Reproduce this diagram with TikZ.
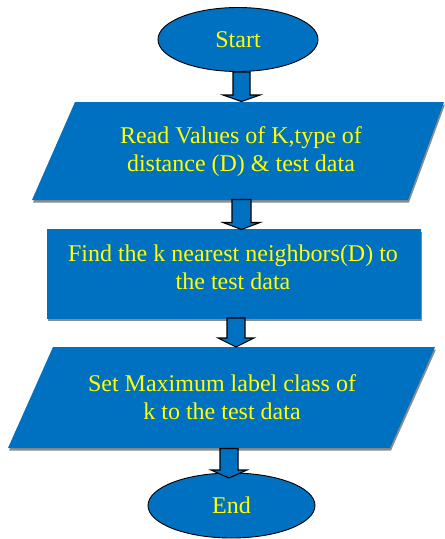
\documentclass[tikz,border=0pt]{standalone}
\usepackage{fontspec}
\setmainfont{Liberation Serif}
\newfontfamily\flowfont{Liberation Serif}
\usetikzlibrary{shapes.geometric,calc}
\definecolor{flowblue}{HTML}{0070C0}
\definecolor{flowtext}{HTML}{FFFF00}
\definecolor{flowshadow}{HTML}{8C8C8C}
% block arrow from the y of #1 down to the point #2; #3 = shaft half width,
% #4 = head half width, #5 = head length
\newcommand{\flowarrow}[5]{%
  \draw[blockarrow] let \p1=(#1), \p2=(#2) in
    (\x2-#3pt,\y1) -- (\x2+#3pt,\y1) -- (\x2+#3pt,\y2+#5pt) -- (\x2+#4pt,\y2+#5pt)
    -- (\x2,\y2) -- (\x2-#4pt,\y2+#5pt) -- (\x2-#3pt,\y2+#5pt) -- cycle;}
\begin{document}
\begin{tikzpicture}[x=1pt,y=-1pt,
  blockfill/.style={fill=flowblue,draw=none},
  blockshadow/.style={fill=flowshadow,draw=none},
  terminal/.style={ellipse,draw=black,line width=0.9pt,fill=flowblue,
    inner sep=0pt,text=flowtext,font=\flowfont\fontsize{24}{28}\selectfont},
  blocktext/.style={align=center,inner sep=0pt,text=flowtext,
    font=\flowfont\fontsize{24}{28}\selectfont},
  blockarrow/.style={fill=flowblue,draw=black,line width=1.1pt,line join=miter}]
\useasboundingbox (0,0) rectangle (445,539);

% input block: read parameters
\fill[blockshadow] (76,104.5) -- (445,104.5) -- (409,202.5) -- (33,202.5) -- cycle;
\fill[blockfill] (75,102) -- (444,102) -- (408,200) -- (32,200) -- cycle;
\node[blocktext] (read) at (241,151.5) {Read Values of K,type of\\distance (D) \& test data};

% process block: nearest neighbours
\fill[blockshadow] (48,231.5) rectangle (422,321);
\fill[blockfill] (47,229) rectangle (421,318.5);
\node[blocktext] (find) at (233,267.5) {Find the k nearest neighbors(D) to\\the test data};

% output block: assign class
\fill[blockshadow] (54,349.5) -- (436,349.5) -- (391,450.5) -- (9,450.5) -- cycle;
\fill[blockfill] (53,347) -- (435,347) -- (390,448) -- (8,448) -- cycle;
\node[blocktext] (set) at (222,397.5) {Set Maximum label class of\\k to the test data};

% terminals
\node[terminal,minimum width=160pt,minimum height=64pt] (start) at (238,39.5) {Start};
\node[terminal,minimum width=167pt,minimum height=65pt] (end) at (231.5,505.5) {End};

% connection points on the blocks
\coordinate (read-in) at (241.5,101.5);
\coordinate (read-out) at (241.5,199.5);
\coordinate (find-in) at (241.5,229.5);
\coordinate (find-out) at (236,318);
\coordinate (set-in) at (236,347);
\coordinate (set-out) at (229,448.5);
\coordinate (end-in) at (229,478);

% block arrows
\flowarrow{start.south}{read-in}{8.5}{18.5}{6.5}
\flowarrow{read-out}{find-in}{9.5}{18.5}{7}
\flowarrow{find-out}{set-in}{9}{18}{9}
\flowarrow{set-out}{end-in}{9}{18}{8}
\end{tikzpicture}
\end{document}
